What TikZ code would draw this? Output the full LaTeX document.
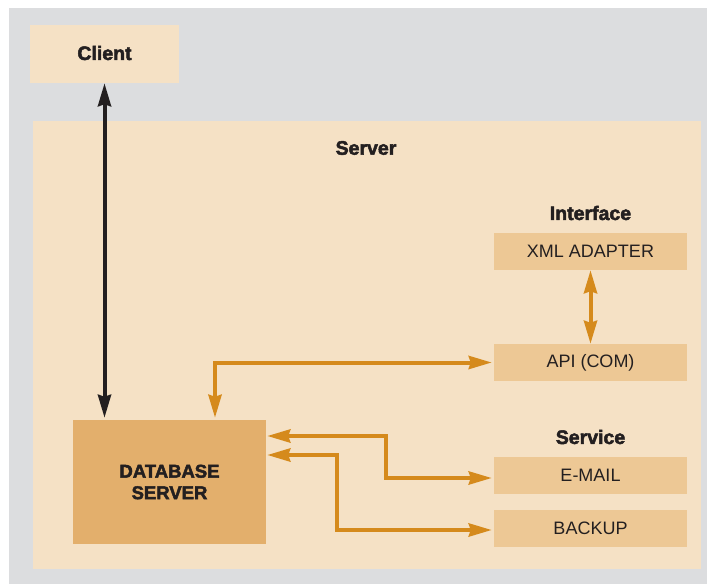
\documentclass[tikz,border=0pt]{standalone}
\usepackage{fontspec}
\setmainfont{Liberation Sans}
\newfontfamily\heavyfont[FakeBold=2.5]{Liberation Sans Bold}
\usetikzlibrary{arrows.meta}

\definecolor{bggray}{HTML}{DCDDDF}
\definecolor{srvbg}{HTML}{F5E1C5}
\definecolor{boxfill}{HTML}{EDC895}
\definecolor{dbfill}{HTML}{E3AF6C}
\definecolor{linkorange}{HTML}{D58A1C}
\definecolor{inkblack}{HTML}{231F20}

\begin{document}
\begin{tikzpicture}[x=1pt, y=-1pt,
	title/.style={text=inkblack, font=\heavyfont\fontsize{19.5}{22}\selectfont},
	unit/.style={fill=boxfill, minimum width=193pt, minimum height=37pt, inner sep=0pt,
		text=inkblack, font=\fontsize{18}{21}\selectfont},
	link/.style={line width=4pt, linkorange, {Stealth[length=23pt,width=13pt,inset=2pt]}-{Stealth[length=23pt,width=13pt,inset=2pt]}}]

	\useasboundingbox (0,0) rectangle (707,584);

	% backgrounds
	\fill[bggray] (9,8) rectangle (707,584);
	\fill[srvbg] (33,121) rectangle (701,569);

	% client and server labels
	\node[fill=srvbg, minimum width=149pt, minimum height=58pt, inner sep=0pt] (client) at (104.5,54) {};
	\node[title] (clientlabel) at (104.5,53) {Client};
	\node[title] (serverlabel) at (366,148) {Server};

	% database server
	\node[fill=dbfill, minimum width=193pt, minimum height=124pt, inner sep=0pt,
		align=center, text=inkblack, font=\heavyfont\fontsize{18.5}{22}\selectfont] (db) at (169.5,482) {DATABASE\\[-0.5pt]SERVER};

	% interface
	\node[title] (interface) at (590.5,213) {Interface};
	\node[unit] (xml) at (590.5,251.5) {XML ADAPTER};
	\node[unit] (api) at (590.5,362.5) {API (COM)};

	% service
	\node[title] (service) at (590.5,437) {Service};
	\node[unit] (email) at (590.5,475.5) {E-MAIL};
	\node[unit] (backup) at (590.5,528.5) {BACKUP};

	% client <-> database
	\draw[line width=4pt, inkblack, {Stealth[length=23pt,width=13pt,inset=2pt]}-{Stealth[length=23pt,width=13pt,inset=2pt]}]
	(client.south) -- ([yshift=2pt]db.north -| client.south);

	% orange links
	\draw[link] ([xshift=45.5pt, yshift=2pt]db.north) |- ([xshift=-2pt]api.west);
	\draw[link] (xml.south) -- (api.north);
	\draw[link] ([xshift=1pt, yshift=46pt]db.east) -| ([xshift=-108pt, yshift=-2.5pt]email.west) -- ([xshift=-2pt, yshift=-2.5pt]email.west);
	\draw[link] ([xshift=1pt, yshift=27pt]db.east) -| ([xshift=-157pt, yshift=-1.5pt]backup.west) -- ([xshift=-2pt, yshift=-1.5pt]backup.west);

\end{tikzpicture}
\end{document}
